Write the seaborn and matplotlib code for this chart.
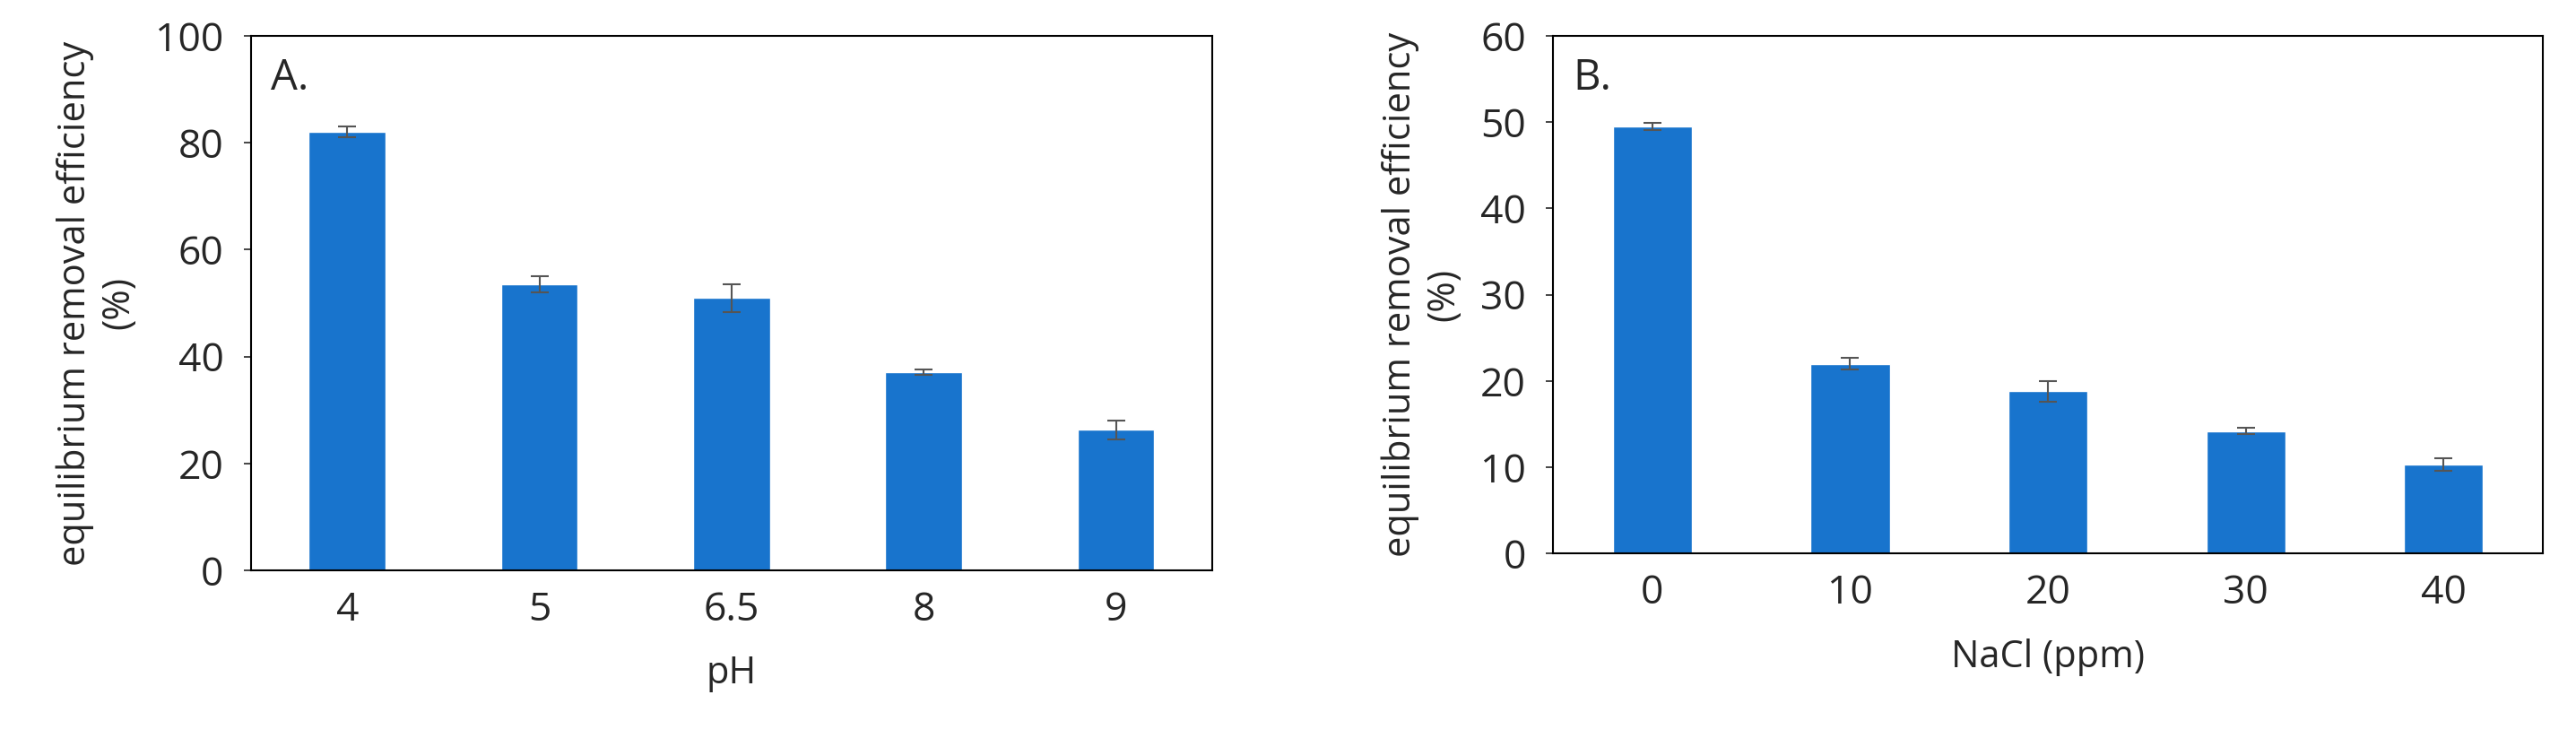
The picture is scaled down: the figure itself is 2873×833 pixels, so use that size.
import numpy as np
import pandas as pd
import matplotlib
matplotlib.use('Agg')
import matplotlib.pyplot as plt
import seaborn as sns

ph_labels = ['4', '5', '6.5', '8', '9']
ph_values = [82.0, 53.5, 51.0, 37.0, 26.3]
ph_err = [1.0, 1.5, 2.6, 0.5, 1.8]

nacl_labels = ['0', '10', '20', '30', '40']
nacl_values = [49.5, 22.0, 18.8, 14.2, 10.3]
nacl_err = [0.4, 0.7, 1.2, 0.4, 0.7]

sns.set_style('white')
plt.rcParams['font.family'] = ['Open Sans', 'DejaVu Sans']
bar_color = '#1874CD'

fig = plt.figure(figsize=(28.73, 8.33), dpi=100)
axA = fig.add_axes([0.0975, 0.2365, 0.373, 0.7155])
axB = fig.add_axes([0.603, 0.259, 0.384, 0.693])


def panel(ax, labels, values, err, xlabel, ymax, step, letter):
    df = pd.DataFrame({'x': labels, 'y': values})
    sns.barplot(data=df, x='x', y='y', color=bar_color, width=0.4,
                saturation=1, ax=ax, errorbar=None)
    ax.errorbar(np.arange(len(values)), values, yerr=err, fmt='none',
                ecolor='#555555', elinewidth=1.5, capsize=7, capthick=1.5)
    ax.set_ylim(0, ymax)
    ax.set_yticks(np.arange(0, ymax + 1, step))
    ax.set_xlim(-0.5, len(values) - 0.5)
    ax.set_xlabel(xlabel, fontsize=30, labelpad=20)
    ax.set_ylabel('equilibrium removal efficiency\n(%)', fontsize=30, labelpad=14)
    ax.tick_params(axis='both', labelsize=32, length=0, pad=16)
    ax.tick_params(axis='y', left=True, length=6, width=1.2, direction='out')
    for s in ax.spines.values():
        s.set_visible(True)
        s.set_color('black')
        s.set_linewidth(1.5)
    ax.text(0.02, 0.96, letter, transform=ax.transAxes, fontsize=34, va='top')


panel(axA, ph_labels, ph_values, ph_err, 'pH', 100, 20, 'A.')
panel(axB, nacl_labels, nacl_values, nacl_err, 'NaCl (ppm)', 60, 10, 'B.')

fig.savefig('out.png', dpi=100)
